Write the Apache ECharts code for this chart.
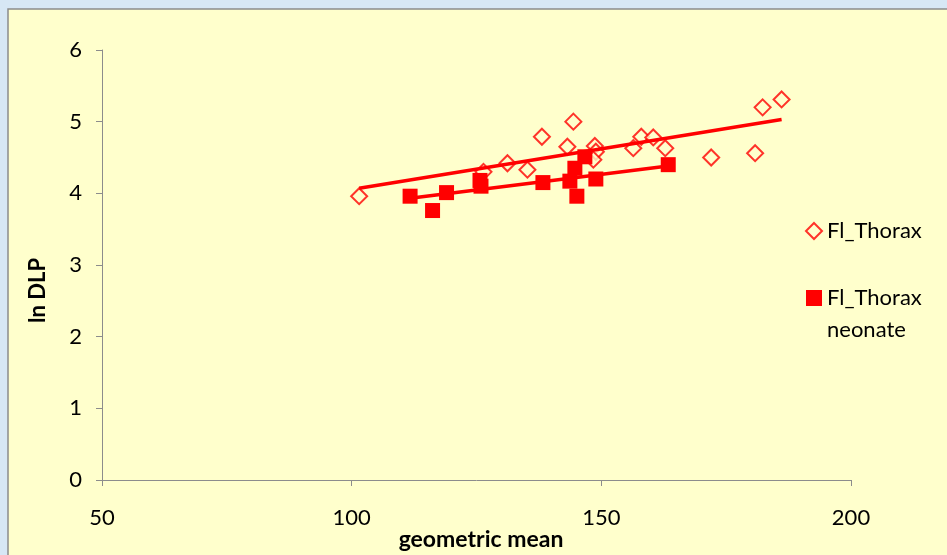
<!DOCTYPE html>
<html><head><meta charset="utf-8">
<script src="https://cdn.jsdelivr.net/npm/echarts@6/dist/echarts.min.js"></script>
<style>html,body{margin:0;padding:0;background:#d7e7f5;}#c{width:947px;height:555px;}</style>
</head><body><div id="c"></div>
<script>
const seriesNames = ['Fl_Thorax', 'Fl_Thorax neonate'];
const legendLabels = ['Fl_Thorax', ' \nFl_Thorax\nneonate'];
const thoraxX = [101.5,126.4,131.2,135.2,138.1,143.2,144.4,148.7,148.9,148.4,156.4,158.0,160.4,162.8,172.0,180.8,182.3,186.1];
const thoraxY = [3.96,4.30,4.42,4.33,4.79,4.65,5.00,4.66,4.58,4.47,4.63,4.79,4.78,4.63,4.50,4.56,5.20,5.31];
const neoX = [111.7,116.2,119.0,125.7,125.9,138.3,143.7,144.7,145.1,146.7,148.9,163.4];
const neoY = [3.96,3.76,4.01,4.18,4.10,4.15,4.17,4.35,3.96,4.51,4.20,4.40];
const thoraxTrendX = [101.5,186.1];
const thoraxTrendY = [4.07,5.03];
const neoTrendX = [111.7,163.4];
const neoTrendY = [3.93,4.38];
const xTicks = [50,100,150,200];
const yTicks = [0,1,2,3,4,5,6];

const zip = (a,b)=>a.map((v,i)=>[v,b[i]]);
const FONT = 'Lato';
const chart = echarts.init(document.getElementById('c'));
chart.setOption({
  backgroundColor: '#d7e7f5',
  animation: false,
  textStyle: {fontFamily: FONT},
  graphic: [
    {type:'rect', z:-10, shape:{x:8,y:9,width:960,height:560}, style:{fill:'#ffffcc', stroke:'#8c8c8c', lineWidth:1.5}},
    {type:'text', left:27, top:258, rotation:Math.PI/2, style:{text:'ln DLP', font:'bold 22px '+FONT, fill:'#000'}}
  ],
  grid: {left:102, right:96, top:50, bottom:75, containLabel:false, outerBoundsMode:'none'},
  xAxis: {
    type:'value', min:xTicks[0], max:xTicks[xTicks.length-1], interval:50,
    splitLine:{show:false},
    axisLine:{show:true, lineStyle:{color:'#8c8c8c'}},
    axisTick:{show:true, length:6, lineStyle:{color:'#8c8c8c'}},
    axisLabel:{fontSize:22, color:'#000', margin:27, fontFamily:FONT},
    name:'geometric mean', nameLocation:'middle', nameGap:48, nameMoveOverlap:false,
    nameTextStyle:{fontSize:23, fontWeight:'bold', color:'#000', fontFamily:FONT, padding:[0,0,0,9]}
  },
  yAxis: {
    type:'value', min:yTicks[0], max:yTicks[yTicks.length-1], interval:1,
    splitLine:{show:false},
    axisLine:{show:true, lineStyle:{color:'#8c8c8c'}},
    axisTick:{show:true, length:6, lineStyle:{color:'#8c8c8c'}},
    axisLabel:{fontSize:22, color:'#000', margin:20, fontFamily:FONT, padding:[6,0,0,0]}
  },
  legend: {
    orient:'vertical', left:800, top:210, itemGap:3, itemWidth:16, itemHeight:16,
    textStyle:{fontSize:22, color:'#000', lineHeight:32, fontFamily:FONT},
    formatter: name => legendLabels[seriesNames.indexOf(name)],
    data:[
      {name:seriesNames[0], icon:'diamond', itemStyle:{color:'#ffffcc', borderColor:'#ff0000', borderWidth:2}},
      {name:seriesNames[1], icon:'rect'}
    ]
  },
  series: [
    {name:seriesNames[0], type:'scatter', symbol:'diamond', symbolSize:16, z:3,
     itemStyle:{color:'#ffffcc', borderColor:'#ff0000', borderWidth:2}, data:zip(thoraxX,thoraxY)},
    {name:seriesNames[1], type:'scatter', symbol:'rect', symbolSize:15, z:4,
     itemStyle:{color:'#ff0000', opacity:1}, data:zip(neoX,neoY)},
    {name:'trend1', type:'line', showSymbol:false, symbol:'none', z:5, lineStyle:{color:'#ff0000', width:3.5}, data:zip(thoraxTrendX,thoraxTrendY)},
    {name:'trend2', type:'line', showSymbol:false, symbol:'none', z:5, lineStyle:{color:'#ff0000', width:3.5}, data:zip(neoTrendX,neoTrendY)}
  ]
});
</script></body></html>
